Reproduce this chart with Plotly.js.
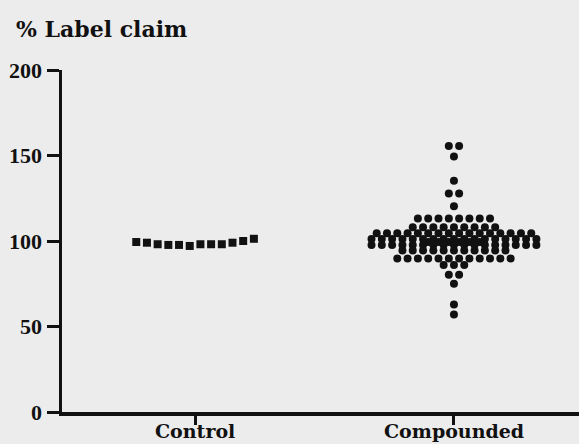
<!DOCTYPE html>
<html>
<head>
<meta charset="utf-8">
<script src="https://cdn.plot.ly/plotly-3.0.1.min.js"></script>
<style>html,body{margin:0;padding:0;background:#ececec;}#chart{width:579px;height:444px;}</style>
</head>
<body>
<div id="chart"></div>
<script>
// ---- data ----
var categories = ['Control', 'Compounded'];
var controlValues = [99.4, 99.0, 98.1, 97.7, 97.7, 97.1, 98.1, 98.1, 98.1, 99.0, 100.0, 101.3];
// compounded dot-plot rows: value level and number of dots at that level
var compoundedLevels = [155.5, 149.4, 135.3, 127.8, 120.3, 113.2, 108.0, 104.5, 101.2, 99.4, 97.6, 94.4, 89.8, 86.0, 80.2, 75.0, 62.8, 57.0];
var compoundedCounts = [2, 1, 1, 2, 1, 8, 9, 16, 17, 6, 17, 11, 12, 3, 2, 1, 1, 1];
var yTickVals = [0, 50, 100, 150, 200];

// ---- layout of dots (horizontal spreading like a dot plot) ----
var ink = '#111111';
var textFont = '"DejaVu Serif", serif';
var numFont = '"Liberation Serif", "DejaVu Serif", serif';
var ctrlStep = 0.0413, compStep = 0.0398;

var cx = [], cy = [];
controlValues.forEach(function (v, i) {
  cx.push(1 + (i - (controlValues.length - 1) / 2) * ctrlStep);
  cy.push(v);
});

var px = [], py = [];
compoundedLevels.forEach(function (v, r) {
  var n = compoundedCounts[r];
  for (var i = 0; i < n; i++) {
    px.push(2 + (i - (n - 1) / 2) * compStep);
    py.push(v);
  }
});

var traces = [
  {type: 'scatter', mode: 'markers', x: cx, y: cy, name: categories[0],
   marker: {symbol: 'square', size: 8, color: ink}, hoverinfo: 'y'},
  {type: 'scatter', mode: 'markers', x: px, y: py, name: categories[1],
   marker: {symbol: 'circle', size: 8, color: ink}, hoverinfo: 'y'}
];

var annotations = categories.map(function (c, i) {
  return {text: '<b>' + c + '</b>', x: i + 1, xref: 'x', y: 0, yref: 'paper',
          yshift: -19, xanchor: 'center', yanchor: 'middle', showarrow: false,
          font: {family: textFont, size: 19, color: ink}};
});

var layout = {
  width: 579, height: 444,
  paper_bgcolor: '#ececec', plot_bgcolor: '#ececec',
  showlegend: false,
  margin: {l: 62, r: 0, t: 70, b: 32, pad: 0},
  font: {family: textFont, color: ink},
  title: {text: '<b>% Label claim</b>', font: {family: textFont, size: 22, color: ink},
          xref: 'container', yref: 'container', x: 16 / 579, xanchor: 'left',
          y: 1 - 29 / 444, yanchor: 'middle'},
  annotations: annotations,
  xaxis: {range: [0.486, 2.483], tickvals: [1, 2], ticktext: categories,
          showticklabels: false,
          ticks: 'outside', ticklen: 9, tickwidth: 3, tickcolor: ink,
          showline: true, linewidth: 3.5, linecolor: ink,
          showgrid: false, zeroline: false, fixedrange: true},
  yaxis: {range: [0, 200], tickvals: yTickVals,
          ticks: 'outside', ticklen: 12, tickwidth: 3, tickcolor: ink,
          showline: true, linewidth: 3.5, linecolor: ink,
          showgrid: false, zeroline: false, fixedrange: true,
          tickfont: {family: numFont, size: 22, color: ink, weight: 'bold'}}
};

Plotly.newPlot('chart', traces, layout, {displayModeBar: false, staticPlot: true});
</script>
</body>
</html>
